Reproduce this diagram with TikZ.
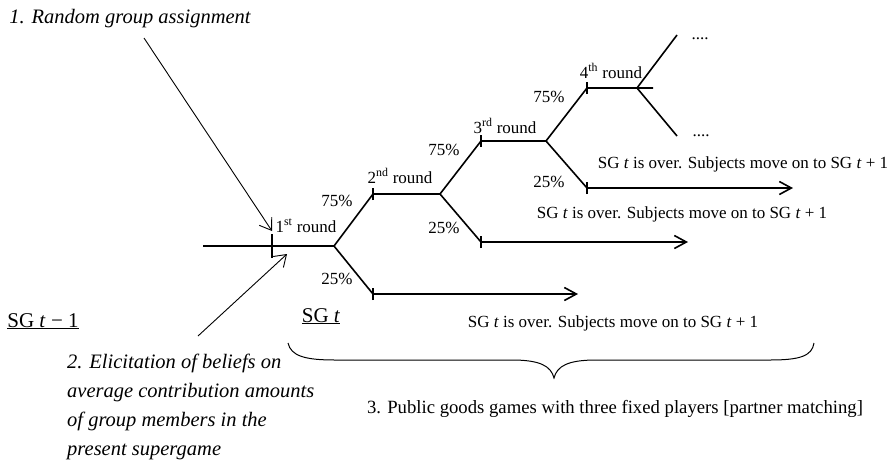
\documentclass[tikz,border=0pt]{standalone}
\usepackage{fontspec}
\setmainfont{Liberation Serif}
\usetikzlibrary{arrows.meta}

\tikzset{
  treeline/.style={line width=1.6pt},
  tickmark/.style={line width=1.2pt},
  pointer/.style={line width=0.9pt,-{Straight Barb[length=11pt,width=15pt]}},
  exitarrow/.style={line width=1.6pt,-{Straight Barb[length=12pt,width=13pt]}},
  small/.style={inner sep=0pt,anchor=base,font=\fontsize{17}{20}\selectfont},
  sglabel/.style={inner sep=0pt,anchor=base,font=\fontsize{21}{24}\selectfont},
  stage/.style={inner sep=0pt,font=\fontsize{20.5}{29}\itshape\selectfont},
}

\begin{document}
\begin{tikzpicture}[x=1pt,y=-1pt]
  \useasboundingbox (0,0) rectangle (896,459);

  % branch points of the game tree
  \coordinate (start) at (203,246);
  \coordinate (t1) at (272,246);
  \coordinate (b1) at (334,246);
  \coordinate (t2) at (373,194);
  \coordinate (b2) at (440,194);
  \coordinate (t3) at (481,141);
  \coordinate (b3) at (546,141);
  \coordinate (t4) at (587,88);
  \coordinate (b4) at (637,88);
  \coordinate (e4) at (653,88);
  \coordinate (up5) at (677,35);
  \coordinate (dn5) at (677,136);
  \coordinate (s2) at (373,294);
  \coordinate (s3) at (481,242);
  \coordinate (s4) at (587,188);
  \coordinate (x2) at (578,294);
  \coordinate (x3) at (688,242);
  \coordinate (x4) at (793,188);

  \draw[treeline] (start) -- (b1) -- (t2) -- (b2) -- (t3) -- (b3) -- (t4) -- (e4);
  \draw[treeline] (up5) -- (b4) -- (dn5);
  \draw[treeline] (b1) -- (s2);
  \draw[treeline] (b2) -- (s3);
  \draw[treeline] (b3) -- (s4);

  % round ticks
  \draw[tickmark] ([yshift=-12pt]t1) -- ([yshift=12pt]t1);
  \foreach \p in {t2,t3,t4,s2,s3,s4}
    \draw[tickmark] ([yshift=-6pt]\p) -- ([yshift=6pt]\p);

  % end of supergame
  \draw[exitarrow] (s2) -- (x2);
  \draw[exitarrow] (s3) -- (x3);
  \draw[exitarrow] (s4) -- (x4);

  \node[small] (r1) at (306,232) {1\textsuperscript{st} round};
  \node[small] (r2) at (400,183) {2\textsuperscript{nd} round};
  \node[small] (r3) at (505,133) {3\textsuperscript{rd} round};
  \node[small] (r4) at (611,78) {4\textsuperscript{th} round};
  \node[small] (p1u) at (337,206) {75\%};
  \node[small] (p1d) at (337,284) {25\%};
  \node[small] (p2u) at (444,155) {75\%};
  \node[small] (p2d) at (444,233) {25\%};
  \node[small] (p3u) at (549,102) {75\%};
  \node[small] (p3d) at (549,187) {25\%};
  \node[small] (dotsu) at (700,39) {....};
  \node[small] (dotsd) at (701,136) {....};
  \node[small] (over4) at (743,168) {SG \textit{t} is over. Subjects move on to SG \textit{t} + 1};
  \node[small] (over3) at (682,218) {SG \textit{t} is over. Subjects move on to SG \textit{t} + 1};
  \node[small] (over2) at (613,327) {SG \textit{t} is over. Subjects move on to SG \textit{t} + 1};

  \node[sglabel] (prev) at (43,327) {\underline{SG \textit{t} − 1}};
  \node[sglabel] (cur) at (321,322) {\underline{SG \textit{t}}};

  % stages
  \node[stage,anchor=base] (assign) at (130,23) {1. Random group assignment};
  \node[stage,anchor=base west,align=left] (elicit) at (67,455)
    {2. Elicitation of beliefs on\\average contribution amounts\\of group members in the\\present supergame};
  \node[inner sep=0pt,anchor=base,font=\fontsize{18.7}{22}\selectfont] (pgg) at (615,413)
    {3. Public goods games with three fixed players [partner matching]};

  \coordinate (a1) at (144,38);
  \coordinate (a1e) at (272,231);
  \coordinate (a2) at (198,336);
  \coordinate (a2e) at (287,254);
  \draw[pointer] (a1) -- (a1e);
  \draw[pointer] (a2) -- (a2e);

  % brace under the rounds
  \draw[line width=1pt] (288,343) .. controls (291,356) and (305,360) .. (335,360)
    -- (512,360) .. controls (540,360) and (551,366) .. (554,378)
    .. controls (557,366) and (568,360) .. (596,360) -- (770,360)
    .. controls (800,360) and (812,356) .. (814,343);
\end{tikzpicture}
\end{document}
